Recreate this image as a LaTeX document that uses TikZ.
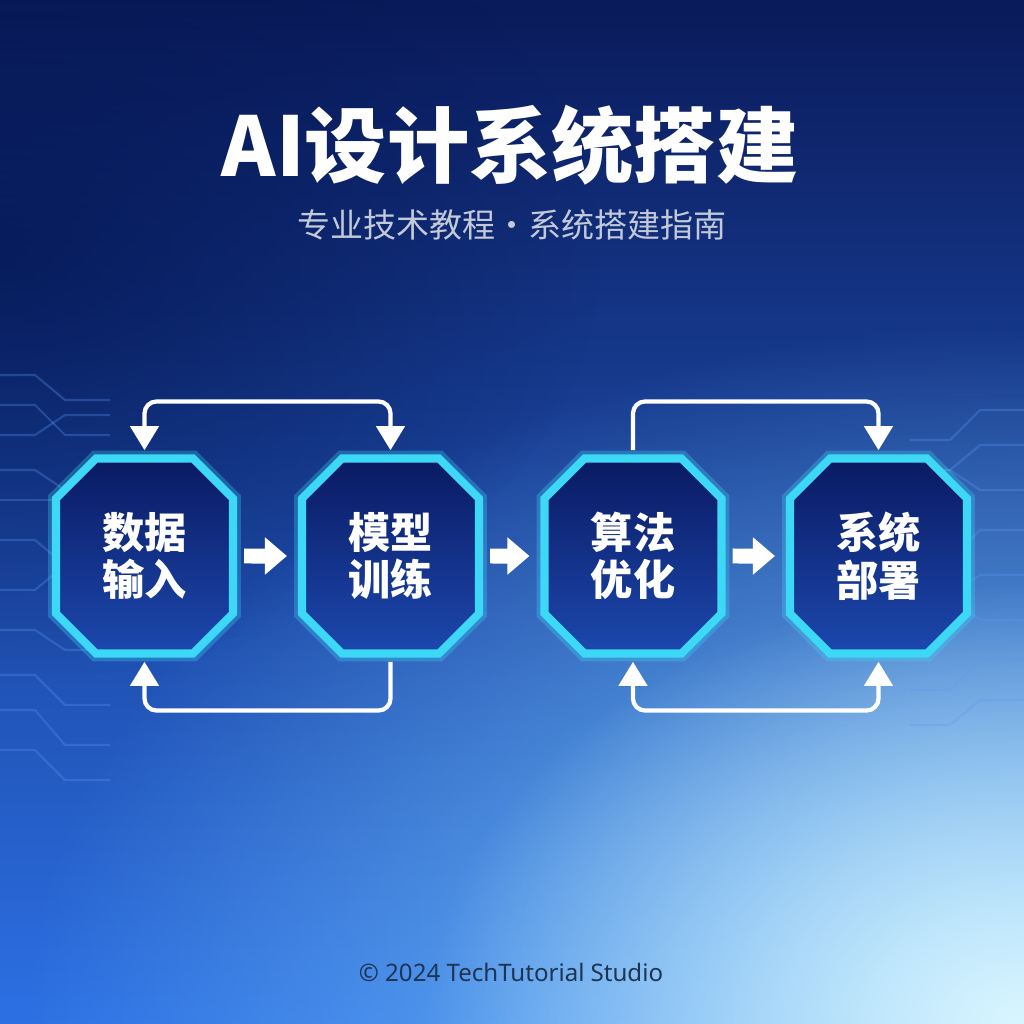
\documentclass[tikz,border=0pt]{standalone}
\usepackage{fontspec}
\setmainfont{Noto Sans}
\newfontfamily\cjk{Noto Sans CJK SC}
\usetikzlibrary{arrows.meta,shapes.misc,fadings}

\definecolor{bgtop}{HTML}{0A1A5A}
\definecolor{bgmid}{HTML}{1646C8}
\definecolor{bgbot}{HTML}{2C70E4}
\definecolor{bgdeep}{HTML}{02144E}
\definecolor{bgsky}{HTML}{7CC6F8}
\definecolor{bglight}{HTML}{DAF6FF}
\definecolor{glow}{HTML}{3CD8F6}
\definecolor{boxtop}{HTML}{0A1A62}
\definecolor{boxbot}{HTML}{1C48AE}
\definecolor{silver}{HTML}{C2C9D9}
\definecolor{footer}{HTML}{1E3454}
\definecolor{tracecol}{HTML}{5A9AF5}

\tikzfading[name=cornerglow, inner color=transparent!0, outer color=transparent!100]

\begin{document}
\begin{tikzpicture}[
  octo/.style={chamfered rectangle, chamfered rectangle sep=0.2cm,
    minimum width=1.77cm, minimum height=1.95cm, inner sep=0pt,
    draw=glow, line width=2.3pt, top color=boxtop, bottom color=boxbot,
    preaction={draw=glow, line width=4.5pt, opacity=0.3},
    text=white, align=center, font=\cjk\bfseries\fontsize{12}{13.5}\selectfont},
  stepflow/.style={white, line width=0.15cm, -{Triangle[width=0.36cm,length=0.22cm]},
    shorten <=0.07cm, shorten >=0.11cm},
  backline/.style={white, line width=1.2pt, rounded corners=0.12cm,
    shorten <=1.2pt, shorten >=1.2pt},
  trace/.style={tracecol, opacity=0.3, line width=0.6pt},
  >={Triangle[width=0.28cm,length=0.24cm]}
]
  % background
  \useasboundingbox (0,0) rectangle (10.24,-10.24);
  \shade[top color=bgtop, middle color=bgmid, bottom color=bgbot] (0,0) rectangle (10.24,-10.24);
  \begin{scope}
    \clip (0,0) rectangle (10.24,-10.24);
    \fill[bgdeep, opacity=0.7, path fading=cornerglow] (0,-2.6) ellipse (6 and 4.2);
    \fill[bgsky, path fading=cornerglow] (10.24,-10.24) ellipse (10 and 7);
    \fill[bglight, path fading=cornerglow] (10.24,-10.24) ellipse (6 and 4.4);
  \end{scope}

  % circuit traces left and right
  \foreach \y/\d in {3.75/0.25, 4.05/0.3, 4.35/-0.2, 4.7/0.2, 5.0/0, 5.4/0.25,
                     5.9/-0.25, 6.3/0.2, 6.75/0.3, 7.1/0.35, 7.5/0.3}
    \draw[trace] (0,-\y) -- (0.35,-\y) -- ++(0.3,-\d) -- (1.1,{-\y-\d});
  \foreach \y/\d in {4.1/0.3, 4.45/0.25, 4.9/-0.2, 5.3/0.3, 5.75/0.2,
                     6.2/-0.25, 6.6/0.3, 7.0/0.25}
    \draw[trace] (10.24,-\y) -- (9.8,-\y) -- ++(-0.3,-\d) -- (9.1,{-\y-\d});

  % titles
  \node[text=white, font=\cjk\bfseries\fontsize{23.4}{26}\selectfont] (title) at (5.1,-1.45) {AI设计系统搭建};
  \node[text=silver, font=\cjk\fontsize{9.4}{11}\selectfont] (subtitle) at (5.12,-2.25) {专业技术教程·系统搭建指南};

  % steps
  \node[octo] (shuju) at (1.445,-5.56) {数据\\输入};
  \node[octo] (moxing) at (3.905,-5.56) {模型\\训练};
  \node[octo] (suanfa) at (6.33,-5.56) {算法\\优化};
  \node[octo] (bushu) at (8.785,-5.56) {系统\\部署};

  \draw[stepflow] (shuju) -- (moxing);
  \draw[stepflow] (moxing) -- (suanfa);
  \draw[stepflow] (suanfa) -- (bushu);

  % feedback loops
  \draw[backline, <->] (shuju.north) -- ++(0,0.53) -| (moxing.north);
  \draw[backline, ->] (moxing.south) -- ++(0,-0.53) -| (shuju.south);
  \draw[backline, ->] (suanfa.north) -- ++(0,0.53) -| (bushu.north);
  \draw[backline, <->] (suanfa.south) -- ++(0,-0.53) -| (bushu.south);

  \node[text=footer, font=\fontsize{6.85}{8}\selectfont] (credit) at (5.11,-9.72) {© 2024 TechTutorial Studio};
\end{tikzpicture}
\end{document}
